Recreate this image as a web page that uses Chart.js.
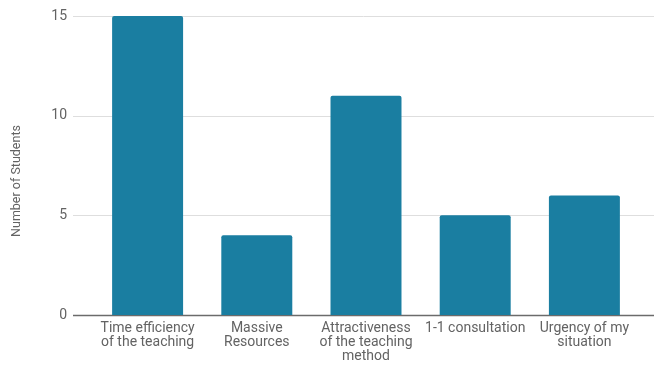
<!DOCTYPE html>
<html>
<head>
<meta charset="utf-8">
<script src="https://cdn.jsdelivr.net/npm/chart.js@4"></script>
<style>
  html, body { margin: 0; padding: 0; background: #fff; }
  #wrap { width: 654px; height: 367px; }
</style>
</head>
<body>
<div id="wrap"><canvas id="myChart" width="654" height="367"></canvas></div>
<script>
const categories = [
    ["Time efficiency", "of the teaching"],
    ["Massive", "Resources"],
    ["Attractiveness", "of the teaching", "method"],
    ["1-1 consultation"],
    ["Urgency of my", "situation"]
];
const students = [15, 4, 11, 5, 6];
const yTicks = [0, 5, 10, 15];

const TEXT = '#636363';
const FONT = 'Roboto, "Noto Sans", sans-serif';

// horizontal grid that runs past the category area, plus the darker baseline
const gridLines = {
    id: 'gridLines',
    beforeDatasetsDraw(chart) {
        const ctx = chart.ctx;
        const y = chart.scales.y;
        ctx.save();
        yTicks.forEach(v => {
            const py = Math.round(y.getPixelForValue(v)) + 0.5;
            ctx.strokeStyle = v === 0 ? '#6b6b6b' : '#dedede';
            ctx.lineWidth = v === 0 ? 1.5 : 1;
            ctx.beginPath();
            ctx.moveTo(73, py);
            ctx.lineTo(chart.width, py);
            ctx.stroke();
        });
        ctx.restore();
    }
};

const axisTitle = {
    id: 'axisTitle',
    afterDraw(chart) {
        const ctx = chart.ctx;
        ctx.save();
        ctx.translate(17, 181);
        ctx.rotate(-Math.PI / 2);
        ctx.fillStyle = TEXT;
        ctx.font = '12.5px ' + FONT;
        ctx.textAlign = 'center';
        ctx.textBaseline = 'middle';
        ctx.fillText('Number of Students', 0, 0);
        ctx.restore();
    }
};

new Chart(document.getElementById('myChart').getContext('2d'), {
    type: 'bar',
    data: {
        labels: categories,
        datasets: [{
            data: students,
            backgroundColor: '#1a7ea1',
            borderRadius: { topLeft: 2, topRight: 2 },
            borderSkipped: 'bottom',
            categoryPercentage: 1,
            barPercentage: 0.65
        }]
    },
    options: {
        responsive: false,
        animation: false,
        layout: { padding: { left: 0, right: 15, top: 0, bottom: 0 } },
        plugins: { legend: { display: false }, tooltip: { enabled: false } },
        scales: {
            x: {
                grid: { display: false, drawTicks: false },
                border: { display: false },
                ticks: {
                    color: TEXT,
                    font: { family: FONT, size: 14, lineHeight: 1.0 },
                    padding: 6,
                    maxRotation: 0,
                    autoSkip: false
                },
                afterFit(axis) {
                    axis.height = 52;
                    axis.paddingLeft = 0;
                    axis.paddingRight = 0;
                }
            },
            y: {
                min: 0,
                max: 15,
                afterBuildTicks(axis) { axis.ticks = yTicks.map(v => ({ value: v })); },
                grid: { display: false, drawTicks: false },
                border: { display: false },
                ticks: {
                    color: TEXT,
                    font: { family: FONT, size: 14 },
                    padding: 26
                },
                afterFit(axis) {
                    axis.width = 93;
                    axis.paddingTop = 16;
                    axis.paddingBottom = 0;
                }
            }
        }
    },
    plugins: [gridLines, axisTitle]
});
</script>
</body>
</html>
